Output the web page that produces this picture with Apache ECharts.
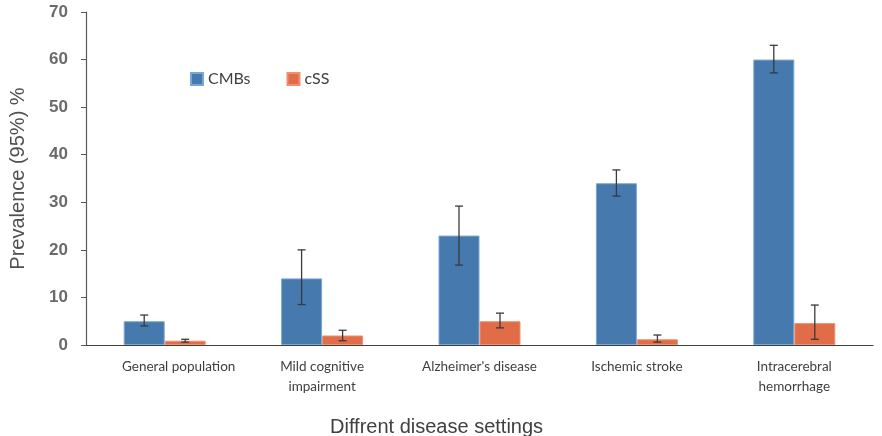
<!DOCTYPE html>
<html><head><meta charset="utf-8">
<script src="https://cdn.jsdelivr.net/npm/echarts@6/dist/echarts.min.js"></script>
<style>html,body{margin:0;padding:0;background:#fff}#c{width:882px;height:436px}</style>
</head><body><div id="c"></div>
<script>
const categories = ['General population', 'Mild cognitive\nimpairment', "Alzheimer's disease", 'Ischemic stroke', 'Intracerebral\nhemorrhage'];
const cmbs = [5.0, 14.0, 23.0, 34.0, 60.0];
const cmbsLow = [4.0, 8.5, 16.8, 31.3, 57.2];
const cmbsHigh = [6.3, 20.0, 29.2, 36.8, 63.0];
const css = [0.9, 2.0, 5.0, 1.2, 4.6];
const cssLow = [0.6, 0.9, 3.6, 0.6, 1.2];
const cssHigh = [1.2, 3.1, 6.7, 2.1, 8.4];
const yTicks = {min: 0, max: 70, interval: 10};

const BW = 41;
function errRender(offset) {
  return function (params, api) {
    const i = api.value(0);
    const lo = api.coord([i, api.value(1)]);
    const hi = api.coord([i, api.value(2)]);
    const x = lo[0] + offset;
    const cap = 4;
    const st = {stroke: '#3a3a3a', lineWidth: 1.3};
    return {type: 'group', children: [
      {type: 'line', shape: {x1: x, y1: lo[1], x2: x, y2: hi[1]}, style: st},
      {type: 'line', shape: {x1: x - cap, y1: lo[1], x2: x + cap, y2: lo[1]}, style: st},
      {type: 'line', shape: {x1: x - cap, y1: hi[1], x2: x + cap, y2: hi[1]}, style: st}
    ]};
  };
}

const chart = echarts.init(document.getElementById('c'), null, {renderer: 'canvas'});
chart.setOption({
  animation: false,
  backgroundColor: '#fff',
  title: {text: 'Diffrent disease settings', left: 325, top: 412,
    textStyle: {fontFamily: 'Liberation Sans', fontSize: 20, fontWeight: 'normal', color: '#404040'}},
  legend: {left: 185, top: 66, icon: 'rect', itemWidth: 12, itemHeight: 12, itemGap: 36,
    textStyle: {fontFamily: 'Lato', fontSize: 16, color: '#404040'},
    data: ['CMBs', 'cSS']},
  grid: {left: 85, right: 9, top: 12, bottom: 91},
  xAxis: {type: 'category', data: categories,
    axisLine: {lineStyle: {color: '#404040', width: 1.2}},
    axisTick: {show: false},
    axisLabel: {interval: 0, margin: 12, fontFamily: 'Lato', fontSize: 13.5, lineHeight: 20, color: '#404040',
      formatter: (v, i) => i === 0 ? '{a|' + v + '}' : v,
      rich: {a: {padding: [0, 0, 0, 28], fontFamily: 'Lato', fontSize: 13.5, color: '#404040'}}}},
  yAxis: {type: 'value', min: yTicks.min, max: yTicks.max, interval: yTicks.interval,
    name: 'Prevalence (95%) %', nameLocation: 'middle', nameGap: 58,
    nameTextStyle: {fontFamily: 'Liberation Sans', fontSize: 20, color: '#505050'},
    splitLine: {show: false},
    axisLine: {show: true, lineStyle: {color: '#595959', width: 1.2}},
    axisTick: {show: true, length: 5, lineStyle: {color: '#595959'}},
    axisLabel: {margin: 18, fontFamily: 'Liberation Sans', fontSize: 17, fontWeight: 'bold', color: '#6a6a6a'}},
  series: [
    {name: 'CMBs', type: 'bar', data: cmbs, barWidth: BW, barGap: '0%',
      itemStyle: {color: '#4679ad', borderColor: '#7aa6d6', borderWidth: 1}},
    {name: 'cSS', type: 'bar', data: css, barWidth: BW, barGap: '0%',
      itemStyle: {color: '#e06c48', borderColor: '#f09070', borderWidth: 1}},
    {type: 'custom', renderItem: errRender(-BW / 2), z: 10,
      data: categories.map((c, i) => [i, cmbsLow[i], cmbsHigh[i]])},
    {type: 'custom', renderItem: errRender(BW / 2), z: 10,
      data: categories.map((c, i) => [i, cssLow[i], cssHigh[i]])}
  ]
});
</script></body></html>
